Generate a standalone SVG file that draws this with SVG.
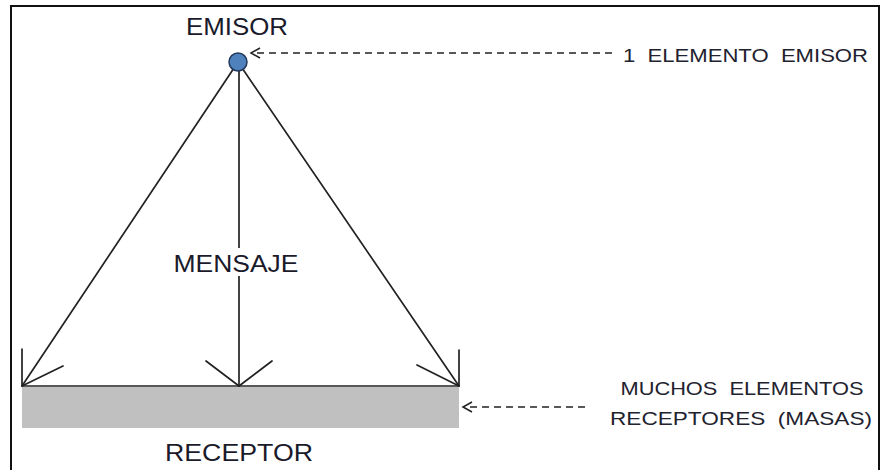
<svg xmlns="http://www.w3.org/2000/svg" width="889" height="470" viewBox="0 0 889 470">
  <style>
    .frame { fill: none; stroke: #111; stroke-width: 2; }
    .line { fill: none; stroke: #222; stroke-width: 1.7; stroke-linecap: round; stroke-linejoin: round; }
    .dash { fill: none; stroke: #222; stroke-width: 1.4; stroke-dasharray: 7 5; }
    .head { fill: none; stroke: #222; stroke-width: 1.5; }
    .big { font-family: "Liberation Sans", Arial, sans-serif; font-size: 24px; fill: #1a1a2a; }
    .note { font-family: "Liberation Sans", Arial, sans-serif; font-size: 18px; fill: #22222e; }
  </style>

  <rect x="0" y="0" width="889" height="470" fill="#fff"/>
  <!-- outer frame -->
  <rect class="frame" x="11" y="6" width="868" height="480"/>

  <!-- receiving mass -->
  <g id="receptor">
    <rect x="22" y="387" width="437" height="41" fill="#c0c0c0"/>
    <line class="line" x1="22" y1="386" x2="459" y2="386"/>
    <text class="big" x="239" y="461" text-anchor="middle" textLength="148" lengthAdjust="spacingAndGlyphs">RECEPTOR</text>
  </g>

  <!-- message lines with arrowheads -->
  <g id="connectors">
    <line class="line" x1="238" y1="62" x2="22" y2="386"/>
    <line class="line" x1="239" y1="62" x2="239" y2="386"/>
    <line class="line" x1="238" y1="62" x2="459" y2="386"/>
    <polyline class="line" points="22,349 22,386 63,366"/>
    <polyline class="line" points="206,361 239,386 272,361"/>
    <polyline class="line" points="459,350 459,386 417,365"/>

    <!-- dashed pointers -->
    <line class="dash" x1="612" y1="53" x2="252" y2="53"/>
    <polyline class="head" points="260,48 251,53 260,58"/>
    <line class="dash" x1="585" y1="407" x2="463" y2="407"/>
    <polyline class="head" points="472,402 463,407 472,412"/>
  </g>

  <g id="emisor">
    <circle cx="238" cy="62" r="9" fill="#4f81bd" stroke="#23395b" stroke-width="1.5"/>
    <text class="big" x="237" y="35" text-anchor="middle" textLength="102" lengthAdjust="spacingAndGlyphs">EMISOR</text>
  </g>

  <g id="mensaje">
    <rect x="170" y="248" width="132" height="28" fill="#fff"/>
    <text class="big" x="236" y="272" text-anchor="middle" textLength="125" lengthAdjust="spacingAndGlyphs">MENSAJE</text>
  </g>

  <g id="nota-emisor">
    <text class="note" xml:space="preserve" x="623" y="62" textLength="245" lengthAdjust="spacingAndGlyphs">1  ELEMENTO  EMISOR</text>
  </g>

  <g id="nota-receptores">
    <text class="note" xml:space="preserve" x="742" y="395" text-anchor="middle" textLength="243" lengthAdjust="spacingAndGlyphs">MUCHOS  ELEMENTOS</text>
    <text class="note" xml:space="preserve" x="741" y="425" text-anchor="middle" textLength="262" lengthAdjust="spacingAndGlyphs">RECEPTORES  (MASAS)</text>
  </g>
</svg>
